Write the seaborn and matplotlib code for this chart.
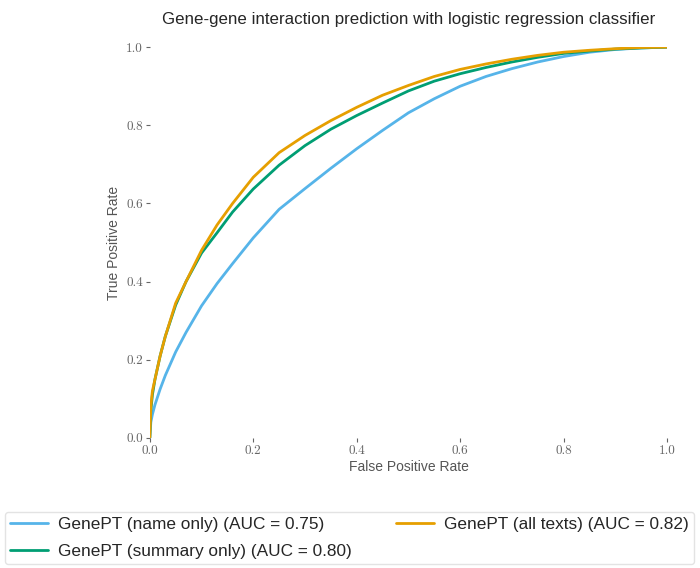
import numpy as np
import pandas as pd
import matplotlib
matplotlib.use("Agg")
import matplotlib.pyplot as plt
import seaborn as sns

sns.set_style("white")
plt.rcParams["font.family"] = ["Liberation Sans", "DejaVu Sans"]

# ROC curves
fpr = [0.0, 0.002, 0.005, 0.01, 0.02, 0.03, 0.05, 0.07, 0.1, 0.13, 0.16, 0.2, 0.25, 0.3,
       0.35, 0.4, 0.45, 0.5, 0.55, 0.6, 0.65, 0.7, 0.75, 0.8, 0.85, 0.9, 0.95, 1.0]
tpr_name = [0.0, 0.04, 0.06, 0.085, 0.125, 0.16, 0.22, 0.27, 0.338, 0.395, 0.446, 0.512, 0.585, 0.638,
            0.69, 0.74, 0.787, 0.832, 0.868, 0.90, 0.925, 0.945, 0.962, 0.976, 0.987, 0.994, 0.998, 1.0]
tpr_summary = [0.0, 0.07, 0.11, 0.15, 0.21, 0.26, 0.34, 0.40, 0.473, 0.525, 0.578, 0.637, 0.698, 0.748,
               0.79, 0.825, 0.857, 0.888, 0.913, 0.932, 0.948, 0.962, 0.974, 0.984, 0.99, 0.995, 0.998, 1.0]
tpr_all = [0.0, 0.08, 0.12, 0.15, 0.21, 0.26, 0.345, 0.40, 0.48, 0.545, 0.60, 0.667, 0.73, 0.774,
           0.812, 0.846, 0.877, 0.902, 0.925, 0.943, 0.957, 0.969, 0.979, 0.987, 0.992, 0.996, 0.999, 1.0]

labels = ["GenePT (name only) (AUC = 0.75)",
          "GenePT (summary only) (AUC = 0.80)",
          "GenePT (all texts) (AUC = 0.82)"]
colors = ["#56B4E9", "#009E73", "#E69F00"]

df = pd.concat([
    pd.DataFrame({"fpr": fpr, "tpr": t, "model": lab})
    for t, lab in zip([tpr_name, tpr_summary, tpr_all], labels)
])

fig = plt.figure(figsize=(7, 5.68), dpi=100)
ax = fig.add_axes([0.214, 0.229, 0.739, 0.688])
sns.lineplot(data=df, x="fpr", y="tpr", hue="model", palette=colors,
             linewidth=2, ax=ax, legend=False, sort=False)

ax.set_xlim(0, 1)
ax.set_ylim(0, 1)
for s in ax.spines.values():
    s.set_visible(False)
ax.set_xticks([0, 0.2, 0.4, 0.6, 0.8, 1.0])
ax.set_yticks([0, 0.2, 0.4, 0.6, 0.8, 1.0])
ax.tick_params(axis="both", length=3, width=0.8, color="#666666", labelsize=9.5,
               labelcolor="#666666", bottom=True, left=True, pad=2)
for lab in ax.get_xticklabels() + ax.get_yticklabels():
    lab.set_fontfamily("cmr10")
ax.set_xlabel("False Positive Rate", color="#555555", fontsize=10, labelpad=2)
ax.set_ylabel("True Positive Rate", color="#555555", fontsize=10, labelpad=4)
ax.set_title("Gene-gene interaction prediction with logistic regression classifier",
             fontsize=12.2, pad=17)

handles = [plt.Line2D([], [], color=c, lw=2) for c in colors]
fig.legend(handles, labels,
           loc="lower left", bbox_to_anchor=(0.004, 0.004, 0.99, 0.1), mode="expand",
           ncol=2, fontsize=12.4, frameon=True, edgecolor="#dddddd",
           handlelength=2.2, handletextpad=0.6, columnspacing=1.0, borderaxespad=0.1,
           labelspacing=0.7, borderpad=0.3)

fig.savefig("out.png", dpi=100)
